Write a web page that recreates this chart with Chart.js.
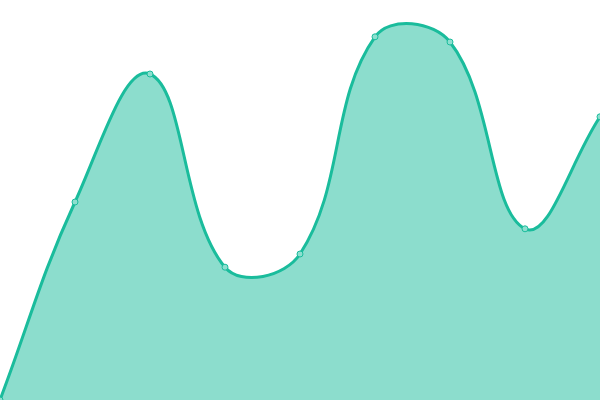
<!DOCTYPE html>
<html>
<head>
<meta charset="utf-8">
<script src="https://cdn.jsdelivr.net/npm/chart.js@4/dist/chart.umd.min.js"></script>
<style>
  html, body { margin: 0; padding: 0; background: #fff; }
  #wrap { width: 600px; height: 400px; }
</style>
</head>
<body>
<div id="wrap"><canvas id="c"></canvas></div>
<script>
const LABELS = ['1', '2', '3', '4', '5', '6', '7', '8', '9'];
const VALUES = [0, 49.5, 81.5, 33.2, 36.5, 90.8, 89.5, 42.8, 70.8];

const LINE = '#1abc9c';
const FILL = 'rgba(26,188,156,0.5)';
const POINT_FILL = '#8ddfcf';

const ctx = document.getElementById('c').getContext('2d');
new Chart(ctx, {
  type: 'line',
  data: {
    labels: LABELS,
    datasets: [{
      data: VALUES,
      borderColor: LINE,
      backgroundColor: FILL,
      borderWidth: 3,
      fill: true,
      tension: 0.4,
      pointRadius: 3,
      pointBorderWidth: 1,
      pointBackgroundColor: POINT_FILL,
      pointBorderColor: LINE,
    }],
  },
  options: {
    responsive: true,
    maintainAspectRatio: false,
    animation: false,
    layout: { padding: 0, autoPadding: false },
    plugins: {
      legend: { display: false },
      tooltip: { enabled: false },
    },
    scales: {
      x: { display: false },
      y: { display: false, min: 0, max: 100 },
    },
  },
});
</script>
</body>
</html>
